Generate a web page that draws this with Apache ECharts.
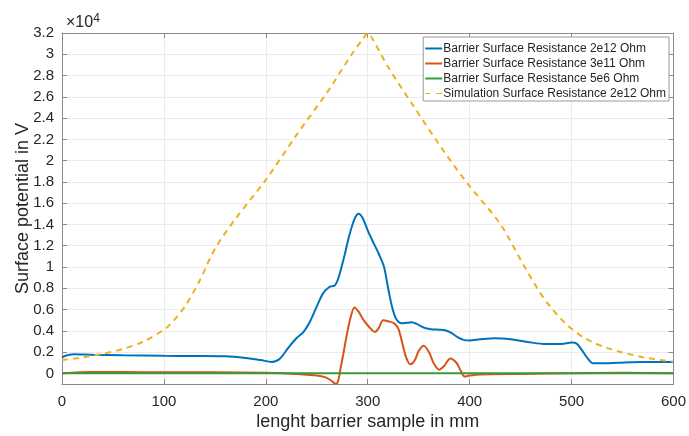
<!DOCTYPE html>
<html>
<head>
<meta charset="utf-8">
<script src="https://cdn.jsdelivr.net/npm/echarts@6/dist/echarts.min.js"></script>
<style>
  html, body { margin: 0; padding: 0; background: #fff; }
  #chart { width: 689px; height: 436px; }
</style>
</head>
<body>
<div id="chart"></div>
<script>
// data, surface potential in V
var blueX = [0, 5, 12, 30, 60, 100, 130, 160, 180, 195, 206, 214, 222, 230, 237, 244, 250, 256, 262, 268, 272, 277, 282, 287, 291, 295, 301, 306, 311, 316, 320, 324, 328, 333, 338, 343, 348, 355, 362, 370, 376, 382, 388, 394, 400, 410, 425, 440, 457, 475, 490, 500, 505, 510, 515, 521, 530, 545, 571, 600]
var blueY = [1500, 1700, 1800, 1750, 1700, 1650, 1630, 1600, 1450, 1250, 1070, 1400, 2400, 3300, 3900, 5000, 6300, 7500, 8100, 8300, 9200, 11000, 13000, 14500, 15000, 14600, 13200, 12200, 11200, 10000, 8000, 6200, 5100, 4700, 4750, 4800, 4650, 4300, 4150, 4100, 4050, 3800, 3400, 3150, 3100, 3200, 3300, 3200, 2950, 2750, 2750, 2900, 2800, 2200, 1500, 950, 950, 1000, 1070, 1070]

var redX = [0, 30, 60, 100, 150, 200, 230, 250, 258, 263, 267, 269, 271, 273, 276, 279, 283, 287, 291, 296, 301, 307, 311, 315, 320, 326, 330, 334, 338, 342, 346, 350, 355, 360, 365, 370, 375, 381, 387, 391, 395, 400, 410, 450, 500, 550, 600]
var redY = [0, 120, 120, 100, 100, 50, -50, -200, -350, -600, -900, -1000, -700, 300, 1800, 3400, 5200, 6200, 5800, 5000, 4400, 3900, 4300, 5000, 4900, 4700, 4200, 2800, 1400, 850, 1200, 2100, 2600, 2000, 900, 350, 700, 1400, 1000, 300, -300, -200, -100, -50, 0, 50, 0]

var greenX = [0, 100, 200, 300, 400, 500, 600]
var greenY = [0, 0, 0, 0, 0, 0, 0]

var simX = [0, 20, 40, 60, 80, 100, 110, 122, 135, 150, 170, 200, 230, 260, 285, 295, 300, 305, 320, 343, 376, 400, 425, 435, 454, 474, 494, 513, 536, 571, 600]
var simY = [1250, 1500, 1850, 2300, 3000, 4100, 5000, 6500, 8700, 11700, 14500, 18200, 22400, 26400, 30100, 31400, 32000, 31400, 28800, 25400, 20700, 17600, 14700, 13300, 10000, 6900, 4700, 3300, 2350, 1500, 1100]

// y tick values (labels shown divided by 1e4)
var yTicks = [0, 2000, 4000, 6000, 8000, 10000, 12000, 14000, 16000, 18000, 20000, 22000, 24000, 26000, 28000, 30000, 32000]

var seriesNames = [
  "Barrier Surface Resistance 2e12 Ohm",
  "Barrier Surface Resistance 3e11 Ohm",
  "Barrier Surface Resistance 5e6 Ohm",
  "Simulation Surface Resistance 2e12 Ohm"
]

function pairs(xs, ys) {
  return xs.map(function (x, i) { return [x, ys[i]] })
}

var txt = "#262626"
var axisCol = "#8a8a8a"
var gridCol = "#ebebeb"
var font = "Liberation Sans, Arial, sans-serif"

function lineSeries(name, data, color, dash) {
  return {
    name: name,
    type: "line",
    data: data,
    smooth: 0.3,
    symbol: "none",
    clip: true,
    lineStyle: { color: color, width: 2, type: dash ? [6, 5] : "solid" },
    itemStyle: { color: color }
  }
}

var chart = echarts.init(document.getElementById("chart"))

var solidIcon = "rect"
var dashIcon = "path://M0,0h5v1h-5zM11,0h6v1h-6z"

var option = {
  animation: false,
  textStyle: { fontFamily: font },
  grid: { left: 62, right: 13, top: 33, bottom: 52 },
  title: {
    text: "×10{s|4}",
    left: 61, top: 8,
    textStyle: {
      fontFamily: font, fontSize: 16, fontWeight: "normal", color: txt,
      rich: { s: { fontSize: 12, verticalAlign: "top", padding: [0, 0, 8, 0], color: txt } }
    }
  },
  legend: {
    orient: "vertical",
    right: 20, top: 37,
    itemWidth: 17, itemHeight: 2, itemGap: 2,
    padding: [5, 3, 1, 2],
    borderColor: "#9a9a9a", borderWidth: 1, borderRadius: 0,
    backgroundColor: "#fff",
    textStyle: { fontFamily: font, fontSize: 12, lineHeight: 13, color: txt, padding: [0, 0, 0, -4] },
    data: [
      { name: seriesNames[0], icon: solidIcon },
      { name: seriesNames[1], icon: solidIcon },
      { name: seriesNames[2], icon: solidIcon },
      { name: seriesNames[3], icon: dashIcon }
    ]
  },
  xAxis: [{
    type: "value",
    min: 0, max: 600, interval: 100,
    name: "lenght barrier sample in mm",
    nameLocation: "middle", nameGap: 29, nameMoveOverlap: false,
    nameTextStyle: { fontSize: 18, color: txt, fontFamily: font },
    axisLine: { onZero: false, lineStyle: { color: axisCol } },
    axisTick: { inside: true, length: 5, lineStyle: { color: axisCol } },
    axisLabel: { fontSize: 15, color: txt, margin: 10, fontFamily: font },
    splitLine: { show: true, lineStyle: { color: gridCol } }
  }, {
    type: "value", position: "top",
    min: 0, max: 600, interval: 100,
    axisLine: { show: true, onZero: false, lineStyle: { color: axisCol } },
    axisTick: { inside: true, length: 5, lineStyle: { color: axisCol } },
    axisLabel: { show: false },
    splitLine: { show: false }
  }],
  yAxis: [{
    type: "value",
    min: -1000, max: 32000,
    name: "Surface potential in V",
    nameLocation: "middle", nameGap: 30, nameMoveOverlap: false,
    nameTextStyle: { fontSize: 18, color: txt, fontFamily: font },
    axisLine: { show: true, onZero: false, lineStyle: { color: axisCol } },
    axisTick: { inside: true, length: 5, customValues: yTicks, lineStyle: { color: axisCol } },
    axisLabel: {
      fontSize: 15, color: txt, margin: 8, fontFamily: font,
      customValues: yTicks,
      formatter: function (v) { return String(+(v / 10000).toFixed(1)) }
    },
    splitLine: { show: true, lineStyle: { color: gridCol } }
  }, {
    type: "value", position: "right",
    min: -1000, max: 32000,
    axisLine: { show: true, onZero: false, lineStyle: { color: axisCol } },
    axisTick: { inside: true, length: 5, customValues: yTicks, lineStyle: { color: axisCol } },
    axisLabel: { show: false },
    splitLine: { show: false }
  }],
  series: [
    lineSeries(seriesNames[0], pairs(blueX, blueY), "#0072BD", false),
    lineSeries(seriesNames[1], pairs(redX, redY), "#D95319", false),
    lineSeries(seriesNames[2], pairs(greenX, greenY), "#3a9a3a", false),
    lineSeries(seriesNames[3], pairs(simX, simY), "#EDB120", true)
  ]
}

chart.setOption(option)
</script>
</body>
</html>
